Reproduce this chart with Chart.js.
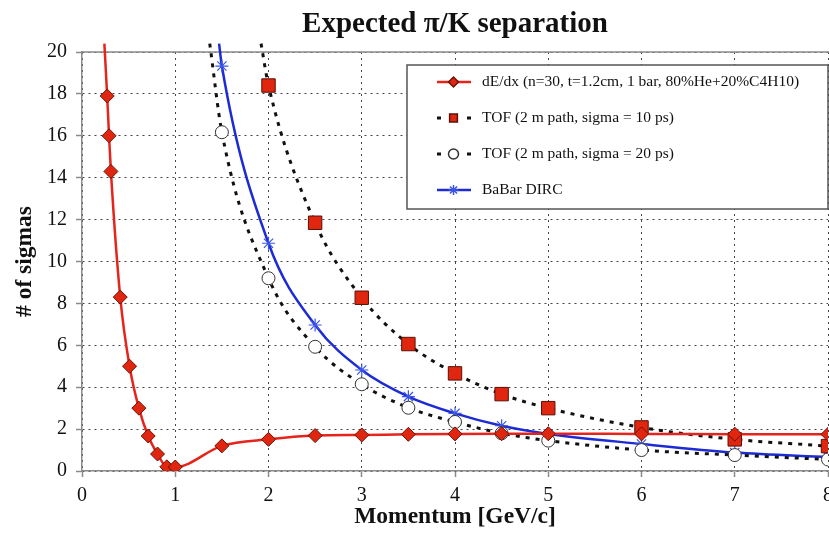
<!DOCTYPE html>
<html>
<head>
<meta charset="utf-8">
<script src="https://cdn.jsdelivr.net/npm/chart.js@4.4.1/dist/chart.umd.min.js"></script>
<style>
  html, body { margin: 0; padding: 0; background: #fff; overflow: hidden; }
  #wrap { width: 860px; height: 537px; }
</style>
</head>
<body>
<div id="wrap"><canvas id="sepChart" width="860" height="537"></canvas></div>
<script>
// Momentum (GeV/c) vs separation (# of sigmas).
// First point of each curve is where the line leaves the top of the plot.
const dedxP    = [0.24, 0.27, 0.29, 0.31, 0.41, 0.51, 0.61, 0.71, 0.81, 0.91, 1.0, 1.5, 2, 2.5, 3, 3.5, 4, 4.5, 5, 6, 7, 8];
const dedxSig  = [20.4, 17.9, 16.0, 14.3, 8.3, 5.0, 3.0, 1.67, 0.81, 0.2, 0.19, 1.2, 1.51, 1.69, 1.72, 1.75, 1.77, 1.78, 1.78, 1.77, 1.76, 1.75];

const tof10P   = [1.92, 2, 2.5, 3, 3.5, 4, 4.5, 5, 6, 7, 8];
const tof10Sig = [20.4, 18.4, 11.85, 8.27, 6.06, 4.66, 3.67, 3.0, 2.08, 1.51, 1.19];

const tof20P   = [1.37, 1.5, 2, 2.5, 3, 3.5, 4, 4.5, 5, 6, 7, 8];
const tof20Sig = [20.4, 16.17, 9.2, 5.93, 4.14, 3.02, 2.34, 1.8, 1.45, 1.0, 0.76, 0.55];

const dircP    = [1.47, 1.5, 2, 2.5, 3, 3.5, 4, 4.5, 5, 6, 7, 8];
const dircSig  = [20.4, 19.33, 10.87, 6.97, 4.82, 3.55, 2.75, 2.16, 1.77, 1.29, 0.88, 0.67];

const seriesNames = [
  'dE/dx (n=30, t=1.2cm, 1 bar, 80%He+20%C4H10)',
  'TOF (2 m path, sigma = 10 ps)',
  'TOF (2 m path, sigma = 20 ps)',
  'BaBar DIRC'
];

const Y_MAX = 20;
const pairs = (xs, ys) => xs.map((x, i) => ({ x: x, y: ys[i] }));
// no marker where the curve runs past the top of the axis
const markerSize = r => ctx => (ctx.raw && ctx.raw.y > Y_MAX ? 0 : r);

const serif = "'Liberation Serif', 'DejaVu Serif', serif";

// 1. legend box drawn inside the plot, upper right
const legendBox = {
  id: 'legendBox',
  beforeDatasetsDraw(chart) {
    // solid frame line along the top of the plot
    const ctx = chart.ctx;
    const a = chart.chartArea;
    ctx.save();
    ctx.strokeStyle = '#8a8a8a';
    ctx.lineWidth = 1.5;
    ctx.beginPath();
    ctx.moveTo(a.left, a.top);
    ctx.lineTo(a.right + 40, a.top);
    ctx.stroke();
    ctx.restore();
  },
  afterDraw(chart) {
    const ctx = chart.ctx;
    const bx = 407, by = 65, bw = 421, bh = 144;
    ctx.save();
    ctx.fillStyle = '#fff';
    ctx.fillRect(bx, by, bw, bh);
    ctx.strokeStyle = '#555';
    ctx.lineWidth = 1.5;
    ctx.strokeRect(bx, by, bw, bh);

    const rows = [82, 118, 154, 190];
    chart.data.datasets.forEach((ds, i) => {
      const y = rows[i];
      ctx.save();
      ctx.strokeStyle = ds.borderColor;
      ctx.lineWidth = ds.borderWidth;
      if (ds.borderDash && ds.borderDash.length) ctx.setLineDash([4, 26]);
      ctx.beginPath();
      ctx.moveTo(437, y);
      ctx.lineTo(471, y);
      ctx.stroke();
      ctx.restore();

      ctx.save();
      ctx.fillStyle = ds.pointBackgroundColor;
      ctx.strokeStyle = ds.pointBorderColor;
      Chart.helpers.drawPoint(ctx, {
        pointStyle: ds.pointStyle,
        radius: ds.legendRadius,
        rotation: 0,
        borderWidth: ds.pointBorderWidth
      }, 453.5, y);
      ctx.restore();

      ctx.fillStyle = '#111';
      ctx.font = "15.5px " + serif;
      ctx.textBaseline = 'middle';
      ctx.textAlign = 'left';
      ctx.fillText(seriesNames[i], 482, y);
    });
    ctx.restore();
  }
};

// 2. chart
const ctx = document.getElementById('sepChart').getContext('2d');
const chart = new Chart(ctx, {
  type: 'line',
  data: {
    datasets: [
      {
        label: seriesNames[0],
        data: pairs(dedxP, dedxSig),
        borderColor: '#e5241b', borderWidth: 2.5,
        pointStyle: 'rectRot', pointRadius: markerSize(7), legendRadius: 5,
        pointBackgroundColor: '#e0260f', pointBorderColor: '#6a1208', pointBorderWidth: 1
      },
      {
        label: seriesNames[1],
        data: pairs(tof10P, tof10Sig),
        borderColor: '#111', borderWidth: 3, borderDash: [4, 6],
        pointStyle: 'rect', pointRadius: markerSize(9.5), legendRadius: 5.5,
        pointBackgroundColor: '#e0260f', pointBorderColor: '#5a1005', pointBorderWidth: 1
      },
      {
        label: seriesNames[2],
        data: pairs(tof20P, tof20Sig),
        borderColor: '#111', borderWidth: 3, borderDash: [4, 6],
        pointStyle: 'circle', pointRadius: markerSize(6.5), legendRadius: 5,
        pointBackgroundColor: '#fff', pointBorderColor: '#333', pointBorderWidth: 1
      },
      {
        label: seriesNames[3],
        data: pairs(dircP, dircSig),
        borderColor: '#1d2bd4', borderWidth: 2.5,
        pointStyle: 'star', pointRadius: markerSize(6.5), legendRadius: 5,
        pointBackgroundColor: '#3b55e6', pointBorderColor: '#3b55e6', pointBorderWidth: 1.2
      }
    ]
  },
  options: {
    responsive: false,
    animation: false,
    layout: { padding: { left: 0, right: 32, top: 0, bottom: 0 } },
    elements: {
      line: { cubicInterpolationMode: 'monotone', borderCapStyle: 'butt' },
      point: { hoverRadius: 6 }
    },
    datasets: { line: { clip: { left: 0, top: 9, right: 0, bottom: 0 } } },
    plugins: {
      legend: { display: false },
      tooltip: { enabled: false },
      title: {
        display: true,
        fullSize: false,
        text: 'Expected \u03c0/K separation',
        color: '#111',
        font: { family: serif, size: 29, weight: 'bold', lineHeight: 1.2 },
        padding: { top: 7, bottom: 10.2 }
      }
    },
    scales: {
      x: {
        type: 'linear',
        min: 0, max: 8,
        ticks: { stepSize: 1, padding: 7, color: '#111', font: { family: serif, size: 20 } },
        grid: {
          color: '#444', lineWidth: 1, tickLength: 6,
          tickColor: '#8a8a8a', tickBorderDash: [], tickWidth: 1.5
        },
        border: { color: '#8a8a8a', width: 1.5, dash: [2, 4] },
        title: {
          display: true, text: 'Momentum [GeV/c]', color: '#111',
          font: { family: serif, size: 23.5, weight: 'bold', lineHeight: 1.2 },
          padding: { top: 0, bottom: 6 }
        },
        afterFit: s => { s.height = 66; }
      },
      y: {
        min: 0, max: Y_MAX,
        ticks: { stepSize: 2, padding: 9, color: '#111', font: { family: serif, size: 20 } },
        grid: {
          color: '#444', lineWidth: 1, tickLength: 6,
          tickColor: '#8a8a8a', tickBorderDash: [], tickWidth: 1.5
        },
        border: { color: '#8a8a8a', width: 1.5, dash: [2, 4] },
        title: {
          display: true, text: '# of sigmas', color: '#111',
          font: { family: serif, size: 23.5, weight: 'bold', lineHeight: 1.2 },
          padding: { top: 11, bottom: 0 }
        },
        afterFit: s => { s.width = 82; }
      }
    }
  },
  plugins: [legendBox]
});
</script>
</body>
</html>
